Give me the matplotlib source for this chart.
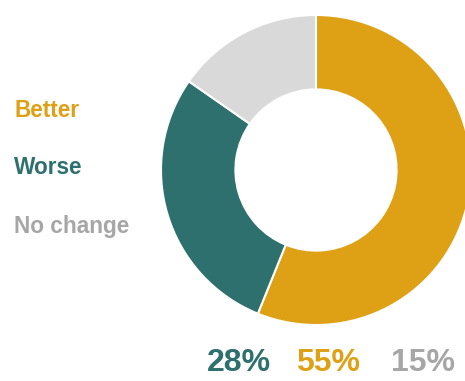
import matplotlib
matplotlib.use("Agg")
import matplotlib.pyplot as plt

categories = ["Better", "Worse", "No change"]
values = [55, 28, 15]
colors = ["#DEA014", "#2E706D", "#D9D9D9"]
text_colors = ["#DEA014", "#2E706D", "#A6A6A6"]

W, H = 465, 381
fig = plt.figure(figsize=(W / 100, H / 100), dpi=100)
plt.rcParams["font.family"] = ["Liberation Sans", "DejaVu Sans"]

# donut axes placed in pixel units: centre (315, 170 from top), radius 155
cx, cy, r = 316, 170, 155
ax = fig.add_axes([(cx - r) / W, 1 - (cy + r) / H, 2 * r / W, 2 * r / H])
ax.pie(values, colors=colors, startangle=90, counterclock=False,
       radius=1.0,
       wedgeprops=dict(width=0.48, edgecolor="white", linewidth=1.5))
ax.set_xlim(-1, 1)
ax.set_ylim(-1, 1)
ax.set_aspect("equal")
ax.axis("off")

# category labels on the left
label_y = [110, 167, 227]
for name, col, y in zip(categories, text_colors, label_y):
    fig.text(14 / W, 1 - y / H, name, color=col, fontsize=16.3,
             fontweight="bold", ha="left", va="center")

# percentage row underneath, ordered Worse, Better, No change
order = [1, 0, 2]
pct_x = [239, 328, 423]
for i, x in zip(order, pct_x):
    fig.text(x / W, 1 - 363 / H, f"{values[i]}%", color=text_colors[i],
             fontsize=23, fontweight="bold", ha="center", va="center")

fig.savefig("out.png", dpi=100, facecolor="white")
